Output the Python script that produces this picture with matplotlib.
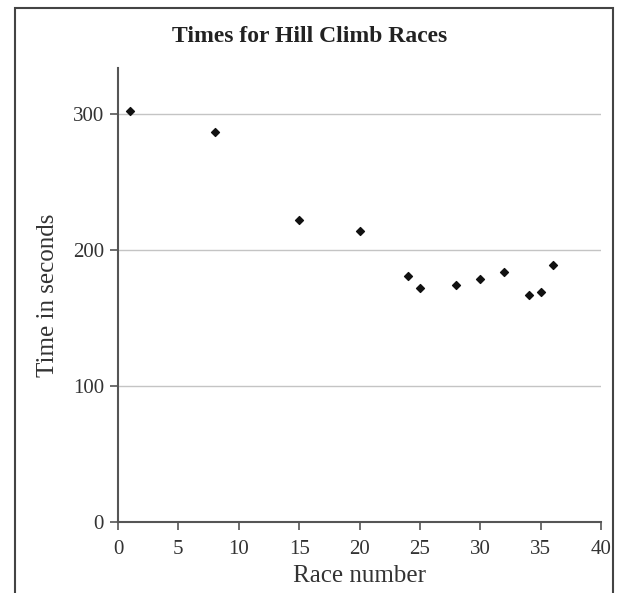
import matplotlib

matplotlib.use("Agg", force=True)
import matplotlib.pyplot as plt
from matplotlib.patches import Rectangle

# data
race_numbers = [1, 8, 15, 20, 24, 25, 28, 30, 32, 34, 35, 36]
times_sec = [302, 287, 222, 214, 181, 172, 174, 179, 184, 167, 169, 189]
x_ticks = [0, 5, 10, 15, 20, 25, 30, 35, 40]
y_ticks = [0, 100, 200, 300]

plt.rcParams["font.family"] = ["Liberation Serif", "DejaVu Serif"]

fig = plt.figure(figsize=(6.19, 5.93), dpi=100)
ax = fig.add_axes([118 / 619, 1 - 522 / 593, (601 - 118) / 619, (522 - 68) / 593])

ax.scatter(race_numbers, times_sec, marker="D", s=16, color="#111111", zorder=3)

ax.set_xlim(0, 40)
ax.set_ylim(0, 334)
ax.set_xticks(x_ticks)
ax.set_yticks(y_ticks)
ax.yaxis.grid(True, color="#c4c4c4", linewidth=1.0)
ax.set_axisbelow(True)

for side in ("top", "right"):
    ax.spines[side].set_visible(False)
for side in ("left", "bottom"):
    ax.spines[side].set_color("#555555")
    ax.spines[side].set_linewidth(1.5)

ax.tick_params(axis="both", direction="out", length=6, width=1.2, color="#555555",
               labelsize=15, labelcolor="#333333")
ax.tick_params(axis="x", pad=7)
ax.tick_params(axis="y", pad=4)

ax.set_xlabel("Race number", fontsize=18, color="#333333", labelpad=4)
ax.set_ylabel("Time in seconds", fontsize=18, color="#333333", labelpad=10)
fig.text(0.5, 1 - 37 / 593, "Times for Hill Climb Races", ha="center", va="center",
         fontsize=17, fontweight="bold", color="#222222")

# frame around the figure, bottom edge cut off
fig.patches.append(Rectangle((15 / 619, -0.05), (613 - 15) / 619, 1.05 - 8 / 593,
                             transform=fig.transFigure, fill=False,
                             edgecolor="#444444", linewidth=1.5))

fig.savefig("out.png", dpi=100)
